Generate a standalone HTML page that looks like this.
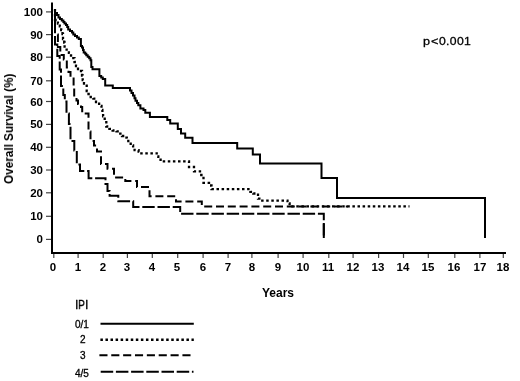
<!DOCTYPE html>
<html><head><meta charset="utf-8"><style>
html,body{margin:0;padding:0;background:#fff;}
body{width:520px;height:381px;position:relative;overflow:hidden;font-family:"Liberation Sans",sans-serif;}
.b{font-weight:bold;}
.yl{position:absolute;right:477.5px;width:30px;text-align:right;font-weight:bold;font-size:11.5px;line-height:14px;color:#000;will-change:transform;}
.xl{position:absolute;top:260px;width:30px;text-align:center;font-weight:bold;font-size:11.5px;line-height:14px;color:#000;will-change:transform;}
.t{position:absolute;white-space:nowrap;color:#000;will-change:transform;}
.r{-webkit-text-stroke:0.3px #000;}
</style></head><body>
<svg width="520" height="381" viewBox="0 0 520 381" style="position:absolute;left:0;top:0">
<rect x="51" y="2.5" width="2" height="251.5" fill="#000"/>
<rect x="51" y="252" width="455" height="2" fill="#000"/>
<rect x="53.2" y="254" width="1.2" height="4" fill="#444"/>
<rect x="77.5" y="254" width="1.2" height="4" fill="#444"/>
<rect x="102.6" y="254" width="1.2" height="4" fill="#444"/>
<rect x="126.8" y="254" width="1.2" height="4" fill="#444"/>
<rect x="151.7" y="254" width="1.2" height="4" fill="#444"/>
<rect x="177.1" y="254" width="1.2" height="4" fill="#444"/>
<rect x="202.5" y="254" width="1.2" height="4" fill="#444"/>
<rect x="227.5" y="254" width="1.2" height="4" fill="#444"/>
<rect x="251.3" y="254" width="1.2" height="4" fill="#444"/>
<rect x="277.5" y="254" width="1.2" height="4" fill="#444"/>
<rect x="302.5" y="254" width="1.2" height="4" fill="#444"/>
<rect x="328.2" y="254" width="1.2" height="4" fill="#444"/>
<rect x="352.5" y="254" width="1.2" height="4" fill="#444"/>
<rect x="378.0" y="254" width="1.2" height="4" fill="#444"/>
<rect x="402.9" y="254" width="1.2" height="4" fill="#444"/>
<rect x="427.7" y="254" width="1.2" height="4" fill="#444"/>
<rect x="454.2" y="254" width="1.2" height="4" fill="#444"/>
<rect x="479.3" y="254" width="1.2" height="4" fill="#444"/>
<rect x="502.7" y="254" width="1.2" height="4" fill="#444"/>
<rect x="46" y="238.8" width="5" height="1.2" fill="#444"/>
<rect x="46" y="215.7" width="5" height="1.2" fill="#444"/>
<rect x="46" y="192.2" width="5" height="1.2" fill="#444"/>
<rect x="46" y="169.4" width="5" height="1.2" fill="#444"/>
<rect x="46" y="146.7" width="5" height="1.2" fill="#444"/>
<rect x="46" y="123.8" width="5" height="1.2" fill="#444"/>
<rect x="46" y="100.9" width="5" height="1.2" fill="#444"/>
<rect x="46" y="80.2" width="5" height="1.2" fill="#444"/>
<rect x="46" y="56.6" width="5" height="1.2" fill="#444"/>
<rect x="46" y="34.0" width="5" height="1.2" fill="#444"/>
<rect x="46" y="11.3" width="5" height="1.2" fill="#444"/>
<path d="M55.0,9.0 V13.0 H57.0 V15.0 H58.5 V17.5 H60.0 V19.0 H61.8 V20.5 H63.4 V22.0 H64.5 V23.5 H66.0 V25.0 H67.2 V27.0 H68.2 V29.5 H70.0 V31.0 H72.0 V32.5 H73.3 V34.5 H75.0 V36.0 H77.0 V37.5 H78.8 V39.0 H80.9 V40.5 V46.0 H82.0 V47.5 H83.0 V50.0 H83.7 V52.5 H85.2 V53.7 H86.3 V55.2 H87.7 V56.7 H89.2 V58.3 H90.5 V60.3 H91.3 V62.3 V67.0 H92.5 V69.2 H99.4 V76.0 H101.2 V77.6 H102.8 V79.1 H105.2 V80.2 V85.4 H112.8 V88.0 H130.0 V90.5 H131.5 V93.0 H133.0 V95.5 H134.5 V98.3 H135.5 V100.8 H137.0 V103.0 H138.3 V105.3 H140.4 V108.5 H143.5 V110.0 H145.3 V112.7 H149.9 V116.9 H167.3 V120.0 H170.2 V123.6 H177.8 V129.0 H181.0 V133.6 H185.2 V137.8 H192.5 V143.0 H237.2 V148.6 H252.8 V154.6 H260.0 V163.5 H321.5 V178.0 H337.0 V198.0 H485.0 V238.0" fill="none" stroke="#000" stroke-width="2" stroke-linejoin="miter" stroke-linecap="butt"/>
<path d="M55.0,9.0 V20.0 H57.9 V23.5 H59.8 V26.3 H61.2 V30.0 H62.5 V34.0 H63.0 V39.0 H64.2 V42.5 H64.6 V46.7 H66.6 V49.7 H68.9 V52.8 H71.0 V55.5 H73.3 V58.2 H74.5 V62.0 H76.0 V66.0 H78.0 V69.0 H81.0 V71.0 H82.0 V75.5 H82.7 V80.0 H84.0 V83.5 H86.7 V85.6 V91.0 H88.5 V94.0 H90.7 V97.0 H93.4 V98.6 H96.0 V102.0 H99.1 V106.0 H101.5 V110.0 H102.4 V112.4 H103.1 V116.3 H104.7 V120.2 H106.3 V122.6 V126.5 H109.4 V128.9 H112.6 V130.5 H116.5 V131.3 H118.9 V133.6 H122.0 V136.0 H125.2 V137.6 H126.8 V139.1 H128.3 V142.3 H130.7 V145.4 H133.1 V147.8 H134.6 V150.2 H138.6 V151.7 H140.2 V153.3 H156.7 V156.5 H158.3 V159.6 H160.6 V161.4 H189.0 V167.0 H194.0 V171.3 H200.0 V175.0 H203.5 V182.8 H209.0 V185.5 H211.5 V189.2 H250.4 V191.8 H253.3 V193.5 H258.0 V198.7 H261.0 V200.7 H287.5 V203.3 H289.6 V205.7 H290.0 V206.3 H409.5" fill="none" stroke="#000" stroke-width="2" stroke-linejoin="miter" stroke-linecap="butt" stroke-dasharray="2.5 2.6" style="stroke-width:2.3px"/>
<path d="M55.0,9.0 V34.5 H57.9 V47.0 H60.3 V55.0 H63.8 V59.5 H66.8 V67.5 H68.5 V72.0 H70.5 V77.0 H73.6 V86.0 H74.2 V97.0 H76.5 V100.5 H78.0 V104.0 H81.0 V107.0 H82.2 V113.5 H88.5 V131.5 H90.5 V141.0 H94.0 V145.5 H97.0 V151.5 H101.0 V164.0 H107.5 V168.8 H114.0 V177.5 H125.3 V181.0 H137.0 V187.0 H149.5 V196.2 H176.0 V201.6 H201.8 V206.4 H348.0" fill="none" stroke="#000" stroke-width="2" stroke-linejoin="miter" stroke-linecap="butt" stroke-dasharray="8 3.8" stroke-dashoffset="7.4"/>
<path d="M55.0,9.0 V44.5 H57.3 V56.0 H59.7 V69.5 H61.0 V86.0 H63.3 V95.0 H64.8 V101.5 H66.5 V113.5 H68.9 V124.0 H70.5 V141.0 H74.3 V150.5 H76.8 V164.5 H80.0 V171.0 H88.6 V178.2 H105.5 V184.0 H107.5 V191.0 H109.6 V195.8 H118.3 V201.2 H133.2 V207.0 H180.2 V213.8 H323.8 V238.0" fill="none" stroke="#000" stroke-width="2" stroke-linejoin="miter" stroke-linecap="butt" stroke-dasharray="12.4 2.8" stroke-dashoffset="3.5"/>
<path d="M323.8,223.6 V238" fill="none" stroke="#000" stroke-width="2" stroke-linejoin="miter" stroke-linecap="butt"/>
<path d="M100.5,323.7 H193.8" fill="none" stroke="#000" stroke-width="2" stroke-linejoin="miter" stroke-linecap="butt"/>
<path d="M100.4,339.7 H193.8" fill="none" stroke="#000" stroke-width="2" stroke-linejoin="miter" stroke-linecap="butt" stroke-dasharray="2.5 2.56" style="stroke-width:2.4px"/>
<path d="M99.4,355.3 H191" fill="none" stroke="#000" stroke-width="2" stroke-linejoin="miter" stroke-linecap="butt" stroke-dasharray="8.1 3.76"/>
<path d="M100.7,371.7 H193.5" fill="none" stroke="#000" stroke-width="2" stroke-linejoin="miter" stroke-linecap="butt" stroke-dasharray="12.5 2.7"/>
</svg>
<div class="yl" style="top:232.4px">0</div>
<div class="yl" style="top:209.3px">10</div>
<div class="yl" style="top:185.8px">20</div>
<div class="yl" style="top:163.0px">30</div>
<div class="yl" style="top:140.3px">40</div>
<div class="yl" style="top:117.4px">50</div>
<div class="yl" style="top:94.5px">60</div>
<div class="yl" style="top:73.8px">70</div>
<div class="yl" style="top:50.2px">80</div>
<div class="yl" style="top:27.6px">90</div>
<div class="yl" style="top:4.9px">100</div>
<div class="xl" style="left:38.4px">0</div>
<div class="xl" style="left:62.7px">1</div>
<div class="xl" style="left:87.8px">2</div>
<div class="xl" style="left:112.0px">3</div>
<div class="xl" style="left:136.9px">4</div>
<div class="xl" style="left:162.3px">5</div>
<div class="xl" style="left:187.7px">6</div>
<div class="xl" style="left:212.7px">7</div>
<div class="xl" style="left:236.5px">8</div>
<div class="xl" style="left:262.7px">9</div>
<div class="xl" style="left:287.7px">10</div>
<div class="xl" style="left:313.4px">11</div>
<div class="xl" style="left:337.7px">12</div>
<div class="xl" style="left:363.2px">13</div>
<div class="xl" style="left:388.1px">14</div>
<div class="xl" style="left:412.9px">15</div>
<div class="xl" style="left:439.4px">16</div>
<div class="xl" style="left:464.5px">17</div>
<div class="xl" style="left:487.9px">18</div>
<div class="t" style="left:262.00px;top:286.50px;font-size:12.00px;line-height:12.00px;font-weight:bold;">Years</div>
<div class="t" style="left:2.60px;top:184.00px;font-size:12.50px;line-height:12.50px;font-weight:bold;transform:rotate(-90deg) scaleX(0.940);transform-origin:0 0;">Overall Survival (%)</div>
<div class="t r" style="left:423.30px;top:35.60px;font-size:11.50px;line-height:11.50px;letter-spacing:0.80px;transform:scaleX(1.100);transform-origin:0 0;">p&lt;</div>
<div class="t r" style="left:439.20px;top:35.60px;font-size:11.50px;line-height:11.50px;letter-spacing:0.30px;transform:scaleX(1.060);transform-origin:0 0;">0.001</div>
<div class="t r" style="left:74.60px;top:298.50px;font-size:12.30px;line-height:12.30px;transform:scaleX(0.900);transform-origin:0 0;">I</div>
<div class="t r" style="left:78.30px;top:298.50px;font-size:12.30px;line-height:12.30px;transform:scaleX(0.830);transform-origin:0 0;">P</div>
<div class="t r" style="left:85.00px;top:298.50px;font-size:12.30px;line-height:12.30px;transform:scaleX(0.900);transform-origin:0 0;">I</div>
<div class="t r" style="left:75.00px;top:319.70px;font-size:10.00px;line-height:10.00px;">0/1</div>
<div class="t r" style="left:79.50px;top:334.50px;font-size:10.00px;line-height:10.00px;">2</div>
<div class="t r" style="left:79.50px;top:350.70px;font-size:10.00px;line-height:10.00px;">3</div>
<div class="t r" style="left:75.00px;top:368.70px;font-size:10.00px;line-height:10.00px;">4/5</div>
</body></html>
